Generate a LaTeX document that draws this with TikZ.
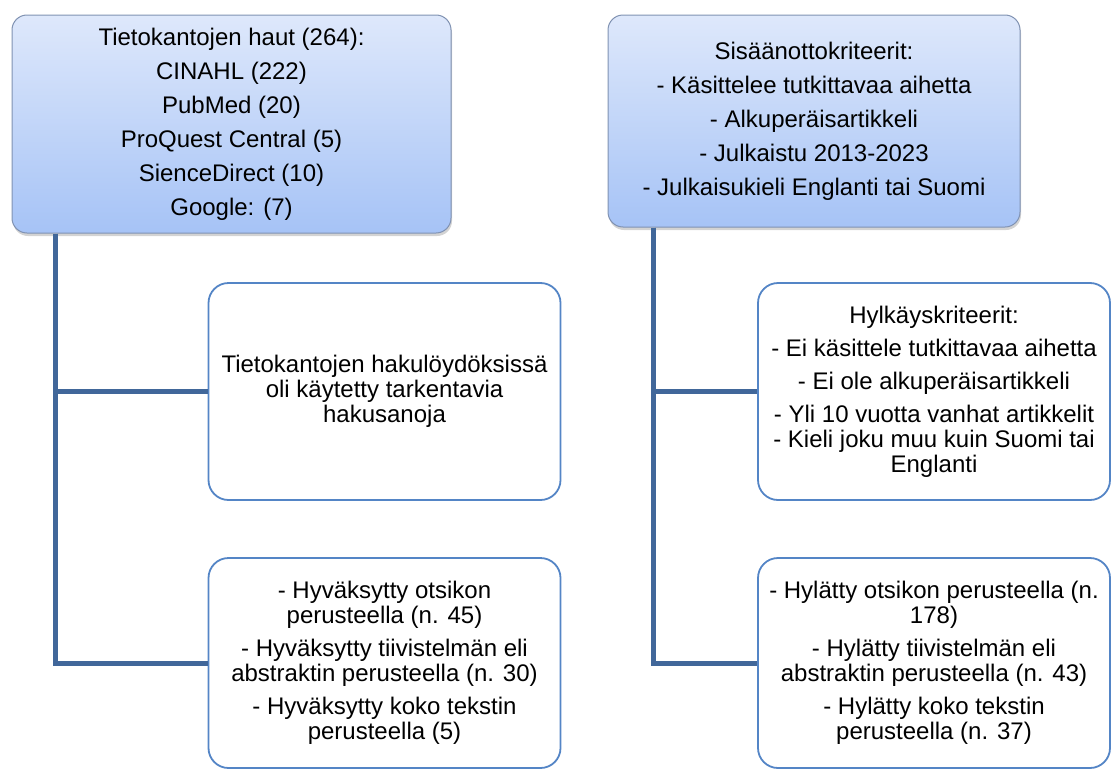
\documentclass[tikz,border=0pt]{standalone}
\usepackage{fontspec}
\setmainfont{Liberation Sans}
\usetikzlibrary{shadows}
\definecolor{linkblue}{RGB}{65,103,154}
\definecolor{frameblue}{RGB}{84,133,198}
\definecolor{headtop}{RGB}{222,232,251}
\definecolor{headbot}{RGB}{166,195,246}
\definecolor{headline}{RGB}{128,146,178}
\tikzset{
  head/.style={draw=headline, line width=1pt, rounded corners=15pt,
    top color=headtop, bottom color=headbot,
    drop shadow={shadow xshift=1pt, shadow yshift=-3pt, opacity=0.35},
    align=center, inner sep=0pt, font=\fontsize{24}{25}\selectfont},
  crit/.style={draw=frameblue, line width=1.8pt, rounded corners=20pt,
    fill=white, align=center, inner sep=0pt, minimum width=352pt,
    font=\fontsize{24}{25}\selectfont},
  link/.style={draw=linkblue, line width=5pt}
}

\begin{document}
\begin{tikzpicture}[x=1pt,y=-1pt]
    \useasboundingbox (0,0) rectangle (1113,771);
    % top
    \node[head, minimum width=439pt, minimum height=218pt] (haut) at (231.5,124)
      {Tietokantojen haut (264):\\[9pt] CINAHL (222)\\[9pt] PubMed (20)\\[9pt]
       ProQuest Central (5)\\[9pt] SienceDirect (10)\\[9pt] Google: (7)};
    \node[head, minimum width=412pt, minimum height=212pt] (sisaan) at (814,121)
      {Sisäänottokriteerit:\\[9pt] - Käsittelee tutkittavaa aihetta\\[9pt]
       - Alkuperäisartikkeli\\[9pt] - Julkaistu 2013-2023\\[9pt]
       - Julkaisukieli Englanti tai Suomi};
    % left
    \node[crit, minimum height=217pt] (tarkennus) at (384.5,391.5)
      {Tietokantojen hakulöydöksissä\\ oli käytetty tarkentavia\\ hakusanoja};
    \node[crit, minimum height=210pt] (hyvaks) at (384.5,663)
      {- Hyväksytty otsikon\\ perusteella (n. 45)\\[8pt]
       - Hyväksytty tiivistelmän eli\\ abstraktin perusteella (n. 30)\\[8pt]
       - Hyväksytty koko tekstin\\ perusteella (5)};
    % right
    \node[crit, minimum height=217pt] (hylkays) at (934,391.5)
      {Hylkäyskriteerit:\\[8pt] - Ei käsittele tutkittavaa aihetta\\[8pt]
       - Ei ole alkuperäisartikkeli\\[8pt] - Yli 10 vuotta vanhat artikkelit\\
       - Kieli joku muu kuin Suomi tai\\ Englanti};
    \node[crit, minimum height=210pt] (hylatty) at (934,663)
      {- Hylätty otsikon perusteella (n.\\ 178)\\[8pt]
       - Hylätty tiivistelmän eli\\ abstraktin perusteella (n. 43)\\[8pt]
       - Hylätty koko tekstin\\ perusteella (n. 37)};
    % links
    \coordinate (lrail) at (55,0);
    \coordinate (rrail) at (653,0);
    \draw[link] (haut.south -| lrail) |- (tarkennus.west);
    \draw[link] (haut.south -| lrail) |- (hyvaks.west);
    \draw[link] (sisaan.south -| rrail) |- (hylkays.west);
    \draw[link] (sisaan.south -| rrail) |- (hylatty.west);
\end{tikzpicture}
\end{document}
